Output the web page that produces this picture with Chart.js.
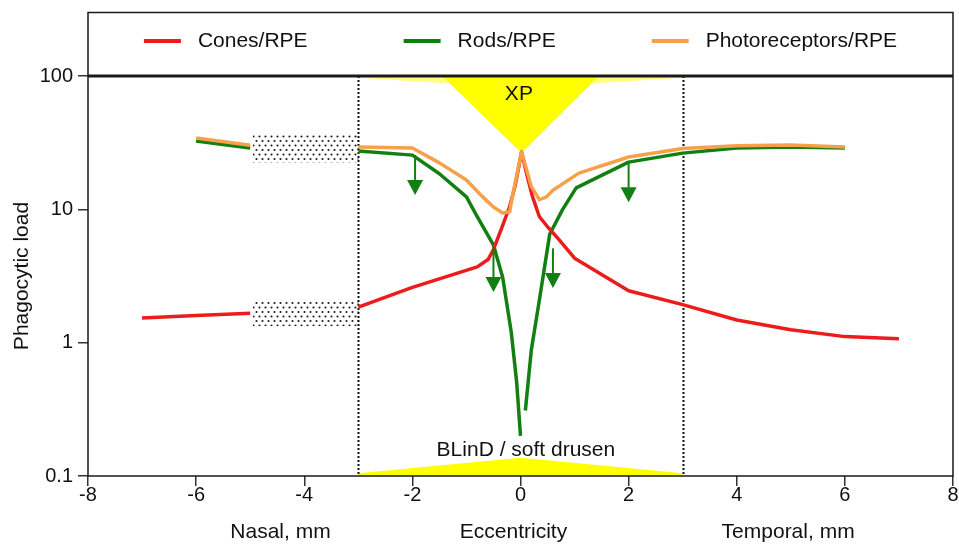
<!DOCTYPE html>
<html><head><meta charset="utf-8">
<script src="https://cdn.jsdelivr.net/npm/chart.js@4.4.0/dist/chart.umd.min.js"></script>
<style>html,body{margin:0;padding:0;background:#fff}#wrap{width:959px;height:547px}</style>
</head><body><div id="wrap"><canvas id="c" width="959" height="547"></canvas></div>
<script>
// ---------- data ----------
const xTicks = [-8, -6, -4, -2, 0, 2, 4, 6, 8];
const yTicks = [0.1, 1, 10, 100];
const seriesNames = ['Cones/RPE', 'Rods/RPE', 'Photoreceptors/RPE'];

const conesX = [-7, -6, -5, -4, -3, -2, -1.4, -0.8, -0.6, -0.5, -0.35, -0.2, -0.1, 0.02, 0.12, 0.22, 0.35, 0.5, 0.7, 1.0, 2.0, 3.0, 4.0, 5.0, 6.0, 7.0];
const conesY = [1.53, 1.6, 1.66, null, 1.85, 2.6, 3.1, 3.7, 4.2, 5.0, 7.2, 10.5, 15, 27, 18, 12.5, 8.8, 7.4, 6.0, 4.3, 2.45, 1.93, 1.48, 1.25, 1.11, 1.07];

const rodsX = [-6, -5, -4, -3, -2, -1.5, -1, -0.8, -0.5, -0.33, -0.17, -0.07, 0.0, 0.05, 0.09, 0.2, 0.35, 0.54, 0.78, 1.03, 2.0, 3.0, 4.0, 5.0, 6.0];
const rodsY = [32.5, 28.8, null, 27.4, 25.5, 18.5, 12.4, 8.8, 5.4, 3.1, 1.19, 0.5, 0.2, null, 0.31, 0.88, 2.1, 6.5, 10, 14.5, 22.6, 26.4, 28.8, 29.4, 28.8];

const photoX = [-6, -5, -4, -3, -2, -1.5, -1, -0.7, -0.5, -0.33, -0.2, -0.15, 0.02, 0.2, 0.35, 0.48, 0.6, 1.08, 2.0, 3.0, 4.0, 5.0, 6.0];
const photoY = [34.3, 30.3, null, 29.4, 28.8, 22.3, 16.6, 12.4, 10.4, 9.4, 9.6, 12.5, 27, 14.8, 11.8, 12.4, 13.9, 18.7, 24.7, 28.6, 30, 30.4, 29.4];

// missing-data boxes (x from, x to, y top, y bottom)
const gapBoxX0 = [-4.95, -4.95];
const gapBoxX1 = [-3, -3];
const gapBoxTop = [36.1, 2.09];
const gapBoxBottom = [22.3, 1.33];

// macular region bounds
const regionBounds = [-3, 3];

// yellow shapes: XP (top) and BLinD / soft drusen (bottom)
const xpBandX = [-3, -1.45, 0, 1.45, 3];
const xpBandY = [97, 88.6, 88.6, 88.6, 97];
const xpTriX = [-1.45, 0.02, 1.45];
const xpTriY = [100, 26.5, 100];
const blindX = [-3, 0, 3];
const blindY = [0.105, 0.137, 0.105];

// arrows (x, from value, to value)
const arrowX = [-1.95, -0.5, 0.6, 2.0];
const arrowFrom = [25.5, 5.2, 5.1, 22.6];
const arrowTo = [12.8, 2.4, 2.57, 11.3];

const colors = ['#ec1c1c', '#127f12', '#f7a04c'];
const drawOrder = [1, 2, 0];

function pts(xs, ys) { return xs.map((x, i) => ({ x: x, y: ys[i] })); }

const FONT = '"Liberation Sans", Arial, Helvetica, sans-serif';

const decor = {
  id: 'decor',
  beforeDatasetsDraw(chart) {
    const { ctx, chartArea: a, scales: { x, y } } = chart;
    ctx.save();
    ctx.beginPath(); ctx.rect(a.left, a.top, a.right - a.left, a.bottom - a.top); ctx.clip();
    // XP band
    ctx.fillStyle = '#ffff80';
    ctx.beginPath();
    ctx.moveTo(x.getPixelForValue(xpBandX[0]), y.getPixelForValue(100));
    xpBandX.forEach((v, i) => ctx.lineTo(x.getPixelForValue(v), y.getPixelForValue(xpBandY[i])));
    ctx.lineTo(x.getPixelForValue(xpBandX[xpBandX.length - 1]), y.getPixelForValue(100));
    ctx.closePath(); ctx.fill();
    // XP triangle
    ctx.fillStyle = '#ffff00';
    ctx.beginPath();
    xpTriX.forEach((v, i) => { const px = x.getPixelForValue(v), py = y.getPixelForValue(xpTriY[i]); i ? ctx.lineTo(px, py) : ctx.moveTo(px, py); });
    ctx.closePath(); ctx.fill();
    // BLinD
    ctx.beginPath();
    ctx.moveTo(x.getPixelForValue(blindX[0]), y.getPixelForValue(0.1));
    blindX.forEach((v, i) => ctx.lineTo(x.getPixelForValue(v), y.getPixelForValue(blindY[i])));
    ctx.lineTo(x.getPixelForValue(blindX[blindX.length - 1]), y.getPixelForValue(0.1));
    ctx.closePath(); ctx.fill();
    // hatch boxes
    const pc = document.createElement('canvas'); pc.width = 6; pc.height = 9;
    const p = pc.getContext('2d');
    p.fillStyle = '#1a1a1a';
    p.beginPath(); p.arc(1.5, 1.5, 1.05, 0, Math.PI * 2); p.fill();
    p.beginPath(); p.arc(4.5, 6, 1.05, 0, Math.PI * 2); p.fill();
    ctx.fillStyle = ctx.createPattern(pc, 'repeat');
    gapBoxX0.forEach((v, i) => {
      const l = x.getPixelForValue(v), r = x.getPixelForValue(gapBoxX1[i]);
      const t = y.getPixelForValue(gapBoxTop[i]), b = y.getPixelForValue(gapBoxBottom[i]);
      ctx.fillRect(l, t, r - l, b - t);
    });
    // dotted region bounds
    ctx.strokeStyle = '#111'; ctx.lineWidth = 2; ctx.setLineDash([2, 2]);
    regionBounds.forEach(v => {
      const px = Math.round(x.getPixelForValue(v)) + 0.5;
      ctx.beginPath(); ctx.moveTo(px, a.top); ctx.lineTo(px, a.bottom); ctx.stroke();
    });
    ctx.restore();
  },
  afterDatasetsDraw(chart) {
    const { ctx, chartArea: a, scales: { x, y } } = chart;
    ctx.save();
    // arrows
    ctx.strokeStyle = colors[1]; ctx.fillStyle = colors[1]; ctx.lineWidth = 2;
    arrowX.forEach((v, i) => {
      const px = x.getPixelForValue(v), y0 = y.getPixelForValue(arrowFrom[i]), y1 = y.getPixelForValue(arrowTo[i]);
      const head = 15, hw = 8;
      ctx.beginPath(); ctx.moveTo(px, y0); ctx.lineTo(px, y1 - head); ctx.stroke();
      ctx.beginPath(); ctx.moveTo(px - hw, y1 - head); ctx.lineTo(px + hw, y1 - head); ctx.lineTo(px, y1); ctx.closePath(); ctx.fill();
    });
    // annotation texts
    ctx.fillStyle = '#111'; ctx.font = '21px ' + FONT; ctx.textAlign = 'center'; ctx.textBaseline = 'middle';
    ctx.fillText('XP', x.getPixelForValue(-0.03), y.getPixelForValue(73));
    ctx.fillText('BLinD / soft drusen', x.getPixelForValue(0.1), y.getPixelForValue(0.156));
    // frame
    ctx.strokeStyle = '#1a1a1a'; ctx.lineWidth = 1.5;
    const boxTop = 12.5;
    ctx.beginPath();
    ctx.moveTo(a.left, a.bottom); ctx.lineTo(a.left, boxTop); ctx.lineTo(a.right, boxTop); ctx.lineTo(a.right, a.bottom); ctx.closePath();
    ctx.stroke();
    ctx.lineWidth = 3;
    ctx.beginPath(); ctx.moveTo(a.left, a.top); ctx.lineTo(a.right, a.top); ctx.stroke();
    // legend
    ctx.font = '21px ' + FONT; ctx.textAlign = 'left'; ctx.textBaseline = 'middle';
    const lineLen = 37, gapT = 17, gapI = 96, ly = 41;
    const widths = seriesNames.map(s => ctx.measureText(s).width);
    let total = widths.reduce((s, w) => s + lineLen + gapT + w, 0) + gapI * (seriesNames.length - 1);
    let cx = (a.left + a.right) / 2 - total / 2;
    chart.data.datasets.forEach((ds, i) => {
      ctx.strokeStyle = ds.borderColor; ctx.lineWidth = 4;
      ctx.beginPath(); ctx.moveTo(cx, ly); ctx.lineTo(cx + lineLen, ly); ctx.stroke();
      ctx.fillStyle = '#111';
      ctx.fillText(ds.label, cx + lineLen + gapT, ly);
      cx += lineLen + gapT + widths[i] + gapI;
    });
    // x axis sub-titles
    ctx.textAlign = 'center'; ctx.textBaseline = 'middle';
    ctx.fillText('Nasal, mm', x.getPixelForValue(-4.44), 532);
    ctx.fillText('Eccentricity', x.getPixelForValue(-0.13), 532);
    ctx.fillText('Temporal, mm', x.getPixelForValue(4.95), 532);
    ctx.restore();
  }
};

const lineDs = (label, xs, ys, color, order) => ({
  label, data: pts(xs, ys), borderColor: color, backgroundColor: color, order,
  borderWidth: 3.5, pointRadius: 0, spanGaps: false, tension: 0,
  borderJoinStyle: 'round', fill: false
});

new Chart(document.getElementById('c'), {
  type: 'line',
  data: {
    datasets: [
      lineDs(seriesNames[0], conesX, conesY, colors[0], drawOrder[0]),
      lineDs(seriesNames[1], rodsX, rodsY, colors[1], drawOrder[1]),
      lineDs(seriesNames[2], photoX, photoY, colors[2], drawOrder[2])
    ]
  },
  options: {
    responsive: false, animation: false, devicePixelRatio: 1,
    layout: { padding: { top: 76, right: 6, left: 0, bottom: 0 } },
    plugins: { legend: { display: false }, tooltip: { enabled: false } },
    scales: {
      x: {
        type: 'linear', min: -8, max: 8,
        afterBuildTicks: s => { s.ticks = xTicks.map(v => ({ value: v })); },
        afterFit: s => { s.height = 71; },
        ticks: { callback: v => String(v), font: { size: 20, family: FONT }, color: '#111', padding: -3, maxRotation: 0 },
        grid: { drawOnChartArea: false, drawTicks: true, tickLength: 10, color: '#333', lineWidth: 1.5 },
        border: { display: false }
      },
      y: {
        type: 'logarithmic', min: 0.1, max: 100,
        afterBuildTicks: s => { s.ticks = yTicks.map(v => ({ value: v })); },
        afterFit: s => { s.width = 88; },
        ticks: { callback: v => String(v), font: { size: 20, family: FONT }, color: '#111', padding: 5 },
        grid: { drawOnChartArea: false, drawTicks: true, tickLength: 10, color: '#333', lineWidth: 1.5 },
        border: { display: false },
        title: { display: true, text: 'Phagocytic load', font: { size: 21, family: FONT }, color: '#111', padding: { top: 10, bottom: 0 } }
      }
    }
  },
  plugins: [decor]
});
</script>
</body></html>
